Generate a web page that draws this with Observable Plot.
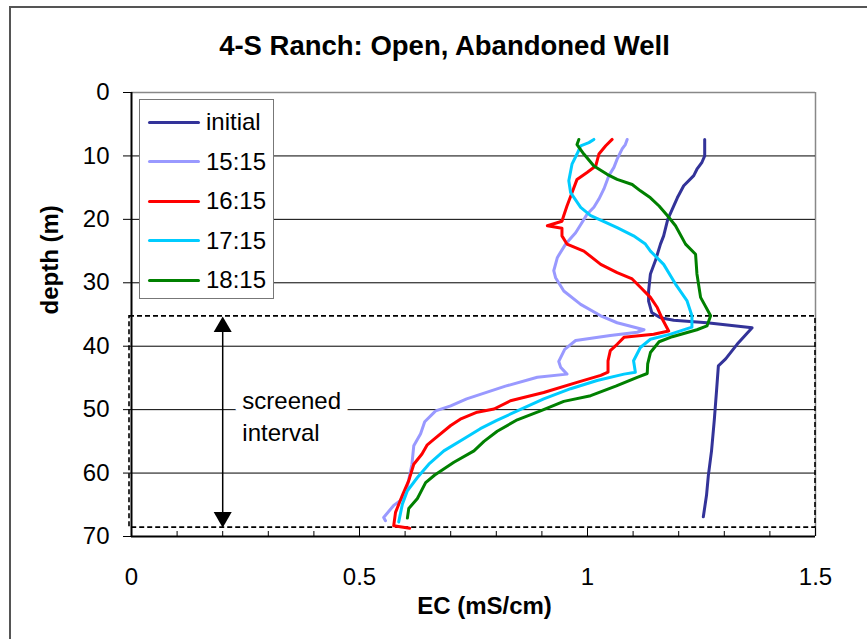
<!DOCTYPE html>
<html>
<head>
<meta charset="utf-8">
<script src="https://cdn.jsdelivr.net/npm/d3@7"></script>
<script src="https://cdn.jsdelivr.net/npm/@observablehq/plot@0.6"></script>
<style>
  html, body { margin: 0; padding: 0; background: #fff; overflow: hidden; }
  #wrap { position: relative; width: 867px; height: 639px; overflow: hidden; background: #fff; }
  #frame { position: absolute; left: 9px; top: 6px; width: 920px; height: 720px; border: 2px solid #555; box-sizing: border-box; pointer-events: none; }
  #chart { position: absolute; left: 0; top: 0; }
  #legend { position: absolute; left: 139px; top: 99px; width: 135px; height: 200px; box-sizing: border-box;
            border: 1px solid #777; background: #fff; font-family: "Liberation Sans", Arial, sans-serif; font-size: 24px; }
  .row { position: absolute; left: 0; height: 0; }
  .sw { position: absolute; left: 8px; top: -1.5px; width: 52px; height: 3px; border-radius: 1.5px; }
  .lab { position: absolute; left: 66px; top: -14px; line-height: 28px; white-space: nowrap; color: #000; }
</style>
</head>
<body>
<div id="wrap">
  <div id="chart"></div>
  <div id="legend"></div>
  <div id="frame"></div>
</div>
<script>
// Series names and line colours
const seriesNames = ["initial", "15:15", "16:15", "17:15", "18:15"];
const seriesColors = ["#333399", "#9999FF", "#FF0000", "#00CCFF", "#008000"];

// EC logs: depth (m) and EC (mS/cm) for each run
const initialDepth = [7.4, 10.0, 11.0, 12.1, 13.1, 14.7, 16.6, 18.4, 20.0, 22.6, 23.9, 26.5, 28.6, 31.3, 32.9, 34.7, 35.5, 35.9, 36.3, 37.1, 39.7, 42.0, 43.1, 47.0, 51.7, 56.5, 60.4, 63.5, 66.9];
const initialEC    = [1.257, 1.257, 1.251, 1.240, 1.233, 1.211, 1.197, 1.186, 1.176, 1.167, 1.160, 1.149, 1.138, 1.134, 1.134, 1.141, 1.160, 1.189, 1.262, 1.361, 1.328, 1.303, 1.287, 1.283, 1.278, 1.272, 1.265, 1.261, 1.254];

const d1515Depth = [7.4, 8.2, 8.9, 10.5, 11.8, 13.1, 15.2, 16.8, 18.1, 19.2, 20.5, 22.1, 23.9, 26.0, 28.1, 29.2, 31.3, 33.4, 35.2, 36.3, 37.4, 37.8, 38.3, 39.1, 40.5, 42.4, 43.3, 44.4, 44.9, 46.3, 48.3, 49.4, 50.2, 51.9, 53.8, 55.7, 58.6, 62.8, 64.3, 65.1, 67.0, 67.5];
const d1515EC    = [1.087, 1.083, 1.076, 1.065, 1.058, 1.047, 1.036, 1.025, 1.014, 0.999, 0.988, 0.974, 0.952, 0.934, 0.926, 0.930, 0.948, 0.985, 1.029, 1.065, 1.124, 1.109, 1.050, 0.974, 0.950, 0.937, 0.941, 0.955, 0.890, 0.820, 0.735, 0.700, 0.667, 0.643, 0.634, 0.619, 0.615, 0.603, 0.590, 0.575, 0.553, 0.557];

const d1615Depth = [7.4, 8.4, 9.7, 11.6, 12.6, 13.7, 15.8, 17.9, 19.4, 20.3, 21.0, 21.4, 22.6, 23.9, 25.0, 27.1, 28.4, 29.4, 30.7, 32.3, 33.9, 35.7, 37.6, 38.1, 38.6, 39.7, 40.7, 42.3, 44.1, 44.6, 45.7, 47.3, 48.6, 49.9, 50.4, 51.5, 52.5, 54.7, 55.6, 57.0, 58.6, 61.2, 63.5, 66.2, 68.3, 68.7];
const d1615EC    = [1.054, 1.040, 1.025, 1.018, 0.999, 0.977, 0.966, 0.955, 0.948, 0.944, 0.912, 0.944, 0.944, 0.955, 0.992, 1.029, 1.065, 1.098, 1.116, 1.138, 1.153, 1.164, 1.178, 1.145, 1.080, 1.065, 1.050, 1.045, 1.045, 1.029, 0.977, 0.904, 0.831, 0.795, 0.758, 0.721, 0.700, 0.663, 0.648, 0.637, 0.619, 0.608, 0.594, 0.579, 0.575, 0.610];

const d1715Depth = [7.4, 7.9, 8.4, 9.7, 11.3, 13.9, 15.8, 18.1, 19.4, 20.3, 21.3, 22.6, 23.9, 25.0, 27.1, 30.2, 32.8, 35.2, 37.0, 38.1, 38.9, 40.2, 42.3, 44.1, 44.4, 45.4, 46.7, 48.3, 50.2, 51.7, 53.0, 54.6, 56.5, 58.6, 60.7, 62.8, 64.9, 67.7];
const d1715EC    = [1.014, 1.003, 0.985, 0.977, 0.966, 0.959, 0.963, 0.985, 1.007, 1.035, 1.065, 1.101, 1.127, 1.138, 1.167, 1.193, 1.218, 1.229, 1.229, 1.182, 1.138, 1.116, 1.101, 1.105, 1.080, 1.021, 0.963, 0.904, 0.846, 0.801, 0.765, 0.729, 0.685, 0.652, 0.627, 0.605, 0.594, 0.586];

const d1815Depth = [7.4, 8.2, 9.7, 11.6, 12.9, 13.7, 14.5, 15.5, 16.6, 17.9, 19.4, 21.0, 23.9, 25.5, 28.6, 32.3, 35.2, 36.8, 37.4, 38.5, 39.3, 41.0, 42.8, 44.3, 44.9, 46.3, 47.8, 48.7, 50.2, 51.6, 53.4, 55.0, 56.5, 58.3, 60.3, 61.5, 64.0, 65.6, 67.1];
const d1815EC    = [0.981, 0.977, 0.992, 1.014, 1.043, 1.065, 1.098, 1.116, 1.138, 1.157, 1.175, 1.193, 1.215, 1.237, 1.240, 1.248, 1.270, 1.262, 1.240, 1.186, 1.157, 1.138, 1.132, 1.131, 1.109, 1.062, 1.007, 0.948, 0.897, 0.846, 0.802, 0.773, 0.751, 0.707, 0.665, 0.645, 0.627, 0.608, 0.605];

const depthArrays = [initialDepth, d1515Depth, d1615Depth, d1715Depth, d1815Depth];
const ecArrays = [initialEC, d1515EC, d1615EC, d1715EC, d1815EC];

// Axis ticks
const yTicks = [0, 10, 20, 30, 40, 50, 60, 70];
const gridDepths = [10, 20, 30, 40, 50, 60];
const xLabelTicks = [0, 0.5, 1, 1.5];
const xMinorTicks = [0.1, 0.2, 0.3, 0.4, 0.6, 0.7, 0.8, 0.9, 1.1, 1.2, 1.3, 1.4];

// Screened interval of the well (m)
const screenTop = 35.3;
const screenBottom = 68.6;
const arrowEC = 0.2;
const screenLabelEC = 0.243;
const screenLabelDepth = 50.8;

const titleText = "4-S Ranch: Open, Abandoned Well";
const xLabel = "EC (mS/cm)";
const yLabel = "depth (m)";

const font = "'Liberation Sans', Arial, Helvetica, sans-serif";
const W = 867, H = 639;
const mL = 131, mR = 52, mT = 92, mB = 103;
const frameH = H - mT - mB;

const lines = seriesNames.map((name, i) =>
  Plot.line(depthArrays[i].map((d, j) => ({series: name, depth: d, ec: ecArrays[i][j]})), {
    x: "ec", y: "depth", stroke: seriesColors[i], strokeWidth: 3, strokeLinejoin: "round", strokeLinecap: "round"
  })
);

const chart = Plot.plot({
  width: W, height: H,
  marginLeft: mL, marginRight: mR, marginTop: mT, marginBottom: mB,
  x: {domain: [0, 1.5]},
  y: {domain: [0, 70], reverse: true},
  style: {fontFamily: font, background: "transparent", color: "#000", overflow: "visible"},
  marks: [
    // plot area border and gridlines
    Plot.ruleY([0], {stroke: "#888", strokeWidth: 1.5}),
    Plot.ruleX([1.5], {stroke: "#888", strokeWidth: 1.5}),
    Plot.ruleY(gridDepths, {stroke: "#000", strokeWidth: 1}),
    // screened interval box
    Plot.rect([{top: screenTop, bottom: screenBottom}], {
      x1: 0, x2: 1.5, y1: "top", y2: "bottom", fill: "none", stroke: "#000",
      strokeWidth: 1.6, strokeDasharray: "5,3", insetLeft: -2
    }),
    // axis lines
    Plot.ruleX([0], {stroke: "#000", strokeWidth: 2}),
    Plot.ruleY([70], {stroke: "#000", strokeWidth: 2}),
    // inward ticks on EC axis
    Plot.ruleX(xMinorTicks, {stroke: "#000", strokeWidth: 1, insetTop: frameH - 5}),
    Plot.ruleX(xLabelTicks, {stroke: "#000", strokeWidth: 1, insetTop: frameH - 8}),
    Plot.axisY({ticks: yTicks, tickSize: 8, tickPadding: 14, fontSize: 24, label: null, tickFormat: d => String(d)}),
    Plot.axisX({ticks: xLabelTicks, tickSize: 0, tickPadding: 31, fontSize: 24, label: null, tickFormat: d => String(d)}),
    // EC profiles
    ...lines,
    // screened interval annotation
    Plot.text([`screened\ninterval`], {
      x: () => screenLabelEC, y: () => screenLabelDepth, text: d => d, textAnchor: "start",
      lineHeight: 1.33, fontSize: 24, fill: "#000", stroke: "white", strokeWidth: 16
    }),
    Plot.ruleX([arrowEC], {y1: screenTop + 1, y2: screenBottom - 1, stroke: "#000", strokeWidth: 1.5}),
    Plot.dot([arrowEC], {x: d => d, y: () => screenTop, symbol: "triangle", r: 6.7, fill: "#000", stroke: "none", dy: 10.4}),
    Plot.dot([arrowEC], {x: d => d, y: () => screenBottom, symbol: "triangle", r: 6.7, fill: "#000", stroke: "none", dy: -10.4, rotate: 180}),
    // titles
    Plot.text([titleText], {frameAnchor: "top", lineAnchor: "middle", dx: -29, dy: -46, fontSize: 27.5, fontWeight: "bold", fill: "#000"}),
    Plot.text([xLabel], {frameAnchor: "bottom", lineAnchor: "middle", dx: 11, dy: 70, fontSize: 24, fontWeight: "bold", fill: "#000"}),
    Plot.text([yLabel], {frameAnchor: "left", dx: -81, rotate: -90, fontSize: 24, fontWeight: "bold", fill: "#000"})
  ]
});
document.getElementById("chart").appendChild(chart);

// legend with line swatches
const legend = document.getElementById("legend");
seriesNames.forEach((name, i) => {
  const row = document.createElement("div");
  row.className = "row";
  row.style.top = (22 + i * 39.6) + "px";
  const sw = document.createElement("div");
  sw.className = "sw";
  sw.style.background = seriesColors[i];
  const lab = document.createElement("div");
  lab.className = "lab";
  lab.textContent = name;
  row.appendChild(sw);
  row.appendChild(lab);
  legend.appendChild(row);
});
</script>
</body>
</html>
